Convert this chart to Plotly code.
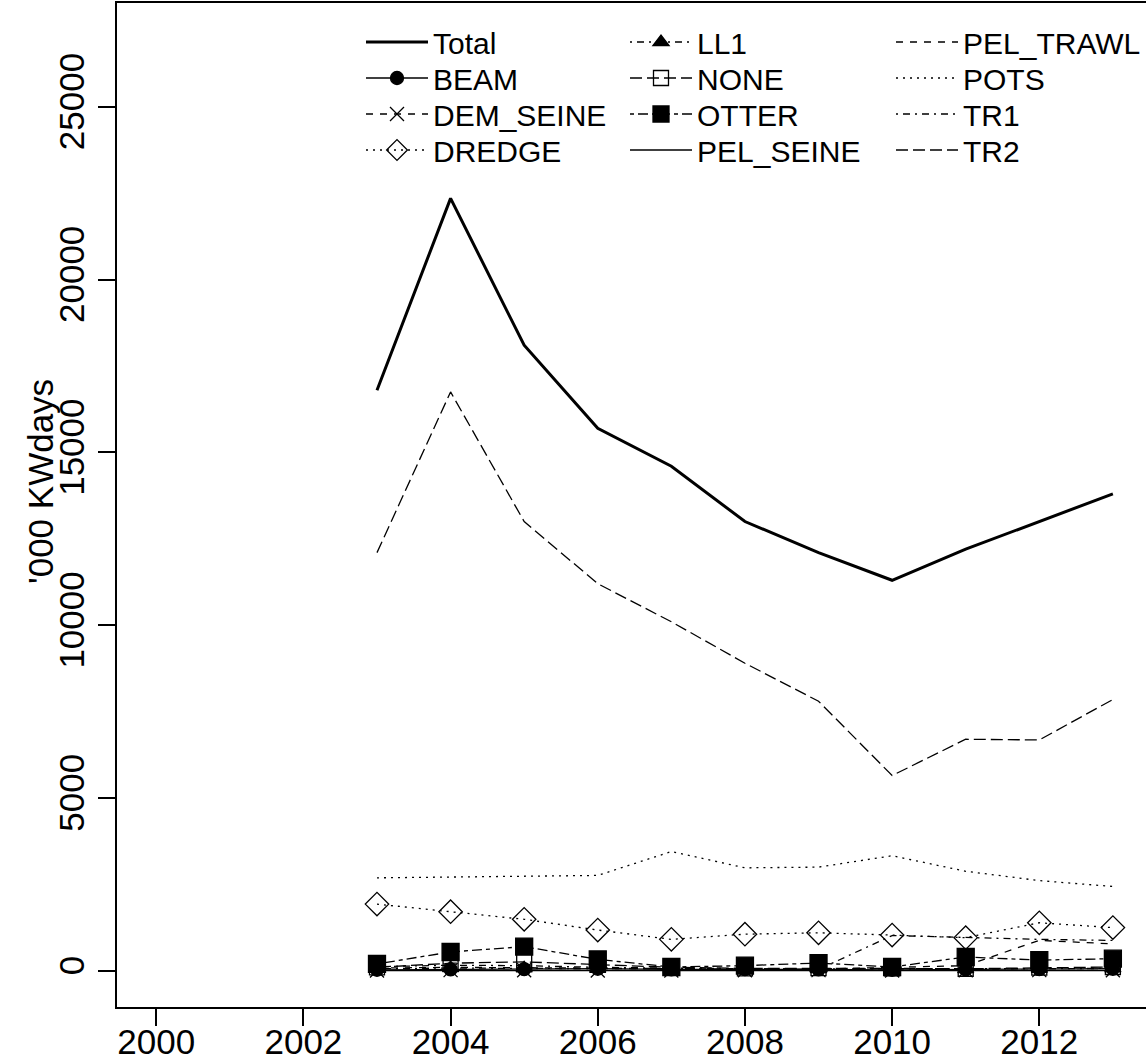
import plotly.graph_objects as go

years = [2003, 2004, 2005, 2006, 2007, 2008, 2009, 2010, 2011, 2012, 2013]

total     = [16800, 22350, 18100, 15700, 14600, 13000, 12100, 11300, 12200, 13000, 13800]
beam      = [30, 40, 50, 60, 40, 50, 40, 30, 40, 50, 60]
dem_seine = [10, 20, 15, 10, 10, 15, 20, 10, 15, 20, 15]
dredge    = [1930, 1710, 1490, 1180, 910, 1060, 1100, 1035, 960, 1390, 1250]
ll1       = [60, 80, 70, 60, 50, 40, 50, 60, 50, 60, 70]
none_     = [100, 220, 260, 180, 100, 70, 80, 70, 60, 90, 110]
otter     = [200, 545, 700, 330, 110, 150, 225, 110, 400, 310, 350]
pel_seine = [5, 5, 5, 5, 5, 5, 5, 5, 5, 5, 5]
pel_trawl = [80, 100, 90, 70, 60, 50, 50, 100, 150, 880, 780]
pots      = [2690, 2720, 2750, 2760, 3450, 2980, 3000, 3330, 2880, 2610, 2440]
tr1       = [120, 160, 150, 100, 80, 60, 40, 1020, 960, 910, 880]
tr2       = [12100, 16750, 13000, 11200, 10100, 8900, 7800, 5650, 6700, 6680, 7850]

x_ticks = [2000, 2002, 2004, 2006, 2008, 2010, 2012]
y_ticks = [0, 5000, 10000, 15000, 20000, 25000]

DOT = "2px,5px"
DASH = "7px,7px"
DOTDASH = "2px,5px,7px,5px"
LONGDASH = "12px,5px"
TWODASH = "4px,4px,10px,4px"

series = [
    # name, values, dash, width, marker symbol, marker size
    ("Total", total, "solid", 3, None, 0),
    ("BEAM", beam, "solid", 1.3, "circle", 13),
    ("DEM_SEINE", dem_seine, DASH, 1.3, "x-thin-open", 14),
    ("DREDGE", dredge, DOT, 1.3, "diamond-open", 18),
    ("LL1", ll1, DOTDASH, 1.3, "triangle-up", 14),
    ("NONE", none_, LONGDASH, 1.3, "square-open", 15),
    ("OTTER", otter, TWODASH, 1.3, "square", 17),
    ("PEL_SEINE", pel_seine, "solid", 1.3, None, 0),
    ("PEL_TRAWL", pel_trawl, DASH, 1.3, None, 0),
    ("POTS", pots, DOT, 1.3, None, 0),
    ("TR1", tr1, DOTDASH, 1.3, None, 0),
    ("TR2", tr2, LONGDASH, 1.3, None, 0),
]

W, H = 1146, 1063
ml, mt, mb, mr = 117, 3, 56, 0
pw = W - ml - mr
ph = H - mt - mb

def lx(px):
    return (px - ml) / pw

def ly(py):
    return 1 - (py - mt) / ph

# legend layout: 3 columns x 4 rows (text start x, row centre y)
col_text_x = [441, 705, 971]
row_y = [42, 78, 114, 150]
ITEMW = 62

fig = go.Figure()
legends = {}
for i, (name, vals, dash, w, sym, sz) in enumerate(series):
    if sym is None:
        mode = "lines"
        marker = None
    else:
        mode = "lines+markers"
        marker = dict(symbol=sym, size=sz, color="black",
                      line=dict(color="black", width=1.3))
    key = "legend" if i == 0 else f"legend{i + 1}"
    fig.add_trace(go.Scatter(
        x=years, y=vals, name=name, mode=mode,
        line=dict(color="black", width=w, dash=dash),
        marker=marker, legend=key,
    ))
    col, row = divmod(i, 4)
    legends[key] = dict(
        x=lx(col_text_x[col] - ITEMW - 18), y=ly(row_y[row]),
        xanchor="left", yanchor="middle",
        font=dict(family="Liberation Sans, Arial", size=30, color="black"),
        bgcolor="rgba(0,0,0,0)", borderwidth=0,
        itemwidth=ITEMW, orientation="v",
    )

fig.update_layout(
    width=W, height=H,
    margin=dict(l=ml, r=mr, t=mt, b=mb, autoexpand=False),
    paper_bgcolor="white", plot_bgcolor="white",
    font=dict(family="Liberation Sans, Arial", size=35, color="black"),
    showlegend=True,
    xaxis=dict(
        range=[1999.467, 2013.45], tickmode="array", tickvals=x_ticks,
        ticktext=[str(v) for v in x_ticks], automargin=False,
        showgrid=False, zeroline=False, showline=True, linecolor="black",
        linewidth=1.5, mirror=True, ticks="outside", ticklen=17,
        tickwidth=1.5, tickcolor="black", ticklabelstandoff=-14,
        tickfont=dict(size=35),
    ),
    yaxis=dict(
        range=[-1047, 28003], tickmode="array", tickvals=y_ticks,
        ticktext=[str(v) for v in y_ticks], automargin=False,
        showgrid=False, zeroline=False, showline=True, linecolor="black",
        linewidth=1.5, mirror=False, ticks="outside", ticklen=17,
        tickwidth=1.5, tickcolor="black", tickangle=-90,
        tickfont=dict(size=35),
    ),
    annotations=[dict(
        text="'000 KWdays", textangle=-90, showarrow=False,
        xref="paper", yref="paper", x=lx(40), y=ly(482),
        xanchor="center", yanchor="middle",
        font=dict(size=35, family="Liberation Sans, Arial", color="black"),
    )],
)
fig.update_layout(**legends)

fig.write_html(
    "out.html",
    config={"displayModeBar": False},
    post_script="document.body.style.margin='0';document.body.style.overflow='hidden';",
)
